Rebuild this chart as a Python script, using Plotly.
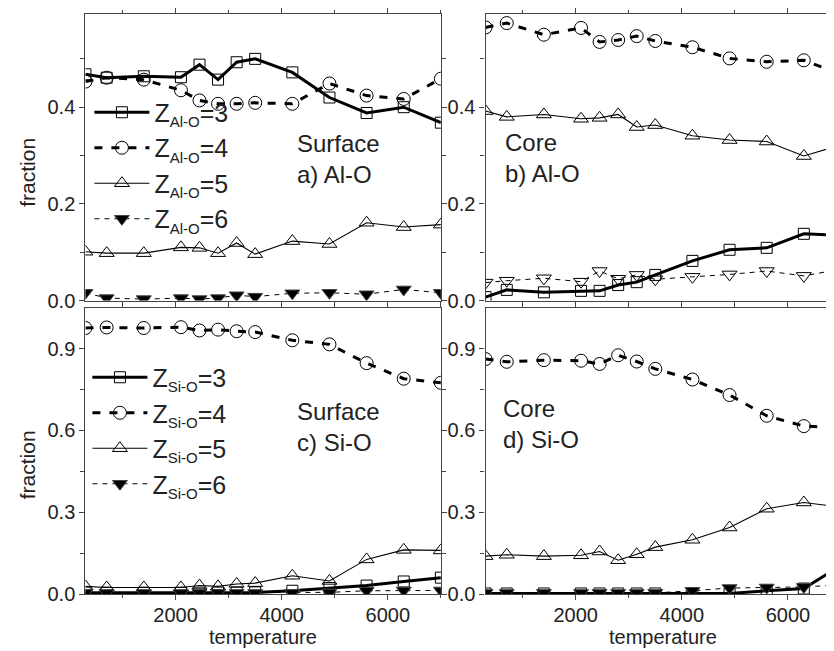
import plotly.graph_objects as go

# ---------------- data ----------------
temperature = [300, 700, 1400, 2100, 2450, 2800, 3150, 3500, 4200, 4900, 5600, 6300, 7000]

# a) Surface Al-O
a_z3 = [0.468, 0.461, 0.464, 0.462, 0.488, 0.457, 0.493, 0.500, 0.472, 0.420, 0.388, 0.400, 0.368]
a_z4 = [0.453, 0.461, 0.457, 0.435, 0.414, 0.407, 0.407, 0.409, 0.407, 0.449, 0.424, 0.417, 0.459]
a_z5 = [0.101, 0.098, 0.098, 0.110, 0.109, 0.098, 0.119, 0.096, 0.123, 0.117, 0.161, 0.152, 0.157]
a_z6 = [0.016, 0.005, 0.003, 0.005, 0.003, 0.005, 0.011, 0.008, 0.015, 0.016, 0.013, 0.023, 0.016]

# b) Core Al-O
b_z3 = [0.007, 0.022, 0.017, 0.020, 0.020, 0.032, 0.038, 0.053, 0.082, 0.105, 0.109, 0.138, 0.135]
b_z4 = [0.565, 0.574, 0.550, 0.564, 0.535, 0.539, 0.547, 0.537, 0.524, 0.501, 0.494, 0.497, 0.468]
b_z5 = [0.392, 0.380, 0.385, 0.376, 0.378, 0.385, 0.359, 0.363, 0.341, 0.332, 0.329, 0.299, 0.322]
b_z6 = [0.037, 0.041, 0.046, 0.039, 0.061, 0.045, 0.053, 0.044, 0.049, 0.054, 0.061, 0.051, 0.065]

# c) Surface Si-O
c_z3 = [0.005, 0.005, 0.005, 0.005, 0.005, 0.005, 0.006, 0.006, 0.012, 0.022, 0.031, 0.046, 0.060]
c_z4 = [0.976, 0.978, 0.976, 0.979, 0.967, 0.970, 0.964, 0.961, 0.931, 0.916, 0.847, 0.790, 0.775]
c_z5 = [0.028, 0.024, 0.024, 0.024, 0.031, 0.028, 0.037, 0.040, 0.067, 0.048, 0.127, 0.162, 0.160]
c_z6 = [0.004, 0.004, 0.004, 0.004, 0.004, 0.004, 0.004, 0.004, 0.004, 0.006, 0.012, 0.013, 0.013]

# d) Core Si-O
d_z3 = [0.002, 0.002, 0.002, 0.002, 0.002, 0.002, 0.002, 0.002, 0.002, 0.002, 0.012, 0.020, 0.105]
d_z4 = [0.862, 0.852, 0.858, 0.856, 0.844, 0.876, 0.853, 0.826, 0.787, 0.730, 0.654, 0.616, 0.610]
d_z5 = [0.139, 0.144, 0.139, 0.142, 0.156, 0.124, 0.146, 0.172, 0.199, 0.244, 0.313, 0.336, 0.319]
d_z6 = [0.004, 0.004, 0.004, 0.004, 0.004, 0.004, 0.004, 0.004, 0.012, 0.022, 0.024, 0.026, 0.034]

SUB = "<sub><span style='font-size:15px'>%s</span></sub>"
al_names = ["Z" + SUB % "Al-O" + "=%d" % k for k in (3, 4, 5, 6)]
si_names = ["Z" + SUB % "Si-O" + "=%d" % k for k in (3, 4, 5, 6)]
panel_labels = ["Surface<br>a) Al-O", "Core<br>b) Al-O", "Surface<br>c) Si-O", "Core<br>d) Si-O"]
x_title = "temperature"
y_title = "fraction"

# ---------------- styles ----------------
FONT = "Arial, Liberation Sans, sans-serif"
TXT = "#222"
styles = [
    dict(line=dict(color="black", width=3), marker=dict(symbol="square-open", size=11, color="black", line=dict(width=1))),
    dict(line=dict(color="black", width=3, dash="8px,9px"), marker=dict(symbol="circle-open", size=13, color="black", line=dict(width=1))),
    dict(line=dict(color="black", width=1.1), marker=dict(symbol="triangle-up-open", size=13, color="black", line=dict(width=1))),
    dict(line=dict(color="black", width=1, dash="5px,5px"), marker=dict(symbol="triangle-down", size=13, color="black", line=dict(width=1))),
]

fig = go.Figure()

panels = [
    ("x", "y", [a_z3, a_z4, a_z5, a_z6], al_names, "legend", False),
    ("x2", "y2", [b_z3, b_z4, b_z5, b_z6], al_names, None, True),
    ("x3", "y3", [c_z3, c_z4, c_z5, c_z6], si_names, "legend2", False),
    ("x4", "y4", [d_z3, d_z4, d_z5, d_z6], si_names, None, False),
]

for xa, ya, series, names, leg, open_z6 in panels:
    for i, vals in enumerate(series):
        st = styles[i]
        marker = dict(st["marker"])
        if i == 3 and open_z6:
            marker = dict(marker, symbol="triangle-down-open")
        fig.add_trace(go.Scatter(
            x=temperature, y=vals, xaxis=xa, yaxis=ya,
            mode="lines+markers", name=names[i],
            line=st["line"], marker=marker,
            showlegend=leg is not None,
            legend=leg if leg else "legend",
        ))

W, H = 834, 651
lx0, lx1 = 78, 436
rx0, rx1 = 481, 834
ty0, ty1 = 5, 297
by0, by1 = 305, 596

def px(x):
    return x / W

def py(y):
    return 1 - y / H

xmin, xmax = 300, 7000
rxmax = xmin + (xmax - xmin) * (rx1 - rx0) / (lx1 - lx0)

axis_common = dict(
    showline=True, linecolor="#444", linewidth=1.3, mirror="ticks",
    ticks="outside", ticklen=5, tickwidth=1, tickcolor="#444",
    showgrid=False, zeroline=False,
    tickfont=dict(family=FONT, size=20, color=TXT),
)
xminor = dict(dtick=1000, ticklen=3, tickwidth=1, tickcolor="#444", ticks="outside")
top_minor = dict(tickvals=[0.1, 0.3, 0.5], ticklen=4, ticks="outside", tickcolor="#444")
bot_minor = dict(tickvals=[0.15, 0.45, 0.75, 1.05], ticklen=4, ticks="outside", tickcolor="#444")

fig.update_layout(
    width=W, height=H,
    margin=dict(l=0, r=0, t=0, b=0),
    paper_bgcolor="white", plot_bgcolor="white",
    font=dict(family=FONT, color=TXT),
    xaxis=dict(domain=[px(lx0), px(lx1)], range=[xmin, xmax], anchor="y",
               showticklabels=False, tickvals=[2000, 4000, 6000], minor=xminor, **axis_common),
    xaxis2=dict(domain=[px(rx0), px(rx1)], range=[xmin, rxmax], anchor="y2",
                showticklabels=False, tickvals=[2000, 4000, 6000], minor=xminor, **axis_common),
    xaxis3=dict(domain=[px(lx0), px(lx1)], range=[xmin, xmax], anchor="y3", ticklabelstandoff=-2,
                tickvals=[2000, 4000, 6000], minor=xminor, **axis_common),
    xaxis4=dict(domain=[px(rx0), px(rx1)], range=[xmin, rxmax], anchor="y4", ticklabelstandoff=-2,
                tickvals=[2000, 4000, 6000], minor=xminor, **axis_common),
    yaxis=dict(domain=[py(ty1), py(ty0)], range=[0, 0.593], anchor="x",
               tickvals=[0, 0.2, 0.4], ticktext=["0.0", "0.2", "0.4"], minor=top_minor, **axis_common),
    yaxis2=dict(domain=[py(ty1), py(ty0)], range=[0, 0.593], anchor="x2",
                tickvals=[0, 0.2, 0.4], ticktext=["0.0", "0.2", "0.4"], minor=top_minor, **axis_common),
    yaxis3=dict(domain=[py(by1), py(by0)], range=[0, 1.048], anchor="x3",
                tickvals=[0, 0.3, 0.6, 0.9], ticktext=["0.0", "0.3", "0.6", "0.9"], minor=bot_minor, **axis_common),
    yaxis4=dict(domain=[py(by1), py(by0)], range=[0, 1.048], anchor="x4",
                tickvals=[0, 0.3, 0.6, 0.9], ticktext=["0.0", "0.3", "0.6", "0.9"], minor=bot_minor, **axis_common),
    legend=dict(x=px(82), y=py(82), xanchor="left", yanchor="top", bgcolor="rgba(0,0,0,0)",
                font=dict(family=FONT, size=25, color=TXT), itemwidth=55, tracegroupgap=0),
    legend2=dict(x=px(80), y=py(352), xanchor="left", yanchor="top", bgcolor="rgba(0,0,0,0)",
                 font=dict(family=FONT, size=25, color=TXT), itemwidth=55, tracegroupgap=0),
)

ann_pos = [(289, 153), (499, 152), (289, 426), (497, 423)]
for (ax, ay), txt in zip(ann_pos, panel_labels):
    fig.add_annotation(text=txt, x=px(ax), y=py(ay), xref="paper", yref="paper",
                       xanchor="left", yanchor="middle", showarrow=False, align="left",
                       font=dict(family=FONT, size=24, color=TXT))

# axis titles
for cx in (257, 660):
    fig.add_annotation(text=x_title, x=px(cx), y=py(640), xref="paper", yref="paper",
                       xanchor="center", yanchor="middle", showarrow=False,
                       font=dict(family=FONT, size=20, color=TXT))
for cy in (166, 464):
    fig.add_annotation(text=y_title, x=px(20), y=py(cy), xref="paper", yref="paper",
                       xanchor="center", yanchor="middle", showarrow=False, textangle=-90,
                       font=dict(family=FONT, size=21, color=TXT))

fig.write_html("out.html")
